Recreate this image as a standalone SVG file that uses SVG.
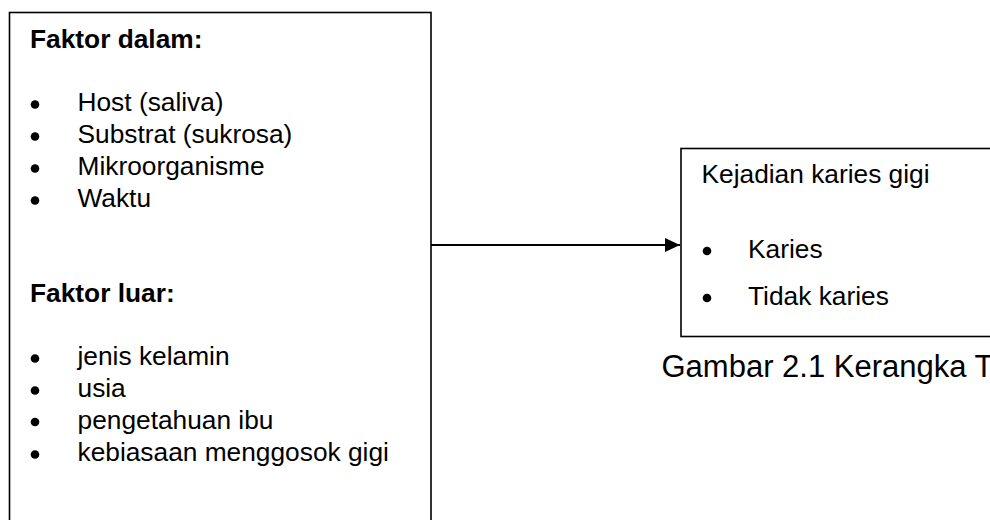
<svg xmlns="http://www.w3.org/2000/svg" width="990" height="520" viewBox="0 0 990 520">
  <style>
    .box { fill: #ffffff; stroke: #000000; stroke-width: 1.6; }
    .t { font-family: "Liberation Sans", Arial, sans-serif; font-size: 26.3px; fill: #000000; }
    .b { font-weight: bold; }
    .cap { font-family: "Liberation Sans", Arial, sans-serif; font-size: 31px; fill: #000000; }
    .link { stroke: #000000; stroke-width: 1.8; fill: none; }
  </style>
  <defs>
    <marker id="arrow" markerWidth="16" markerHeight="14" refX="15" refY="7" orient="auto" markerUnits="userSpaceOnUse">
      <path d="M0,0 L15,7 L0,14 Z" fill="#000000"/>
    </marker>
  </defs>
  <rect width="990" height="520" fill="#ffffff"/>

  <!-- factors box -->
  <g id="faktor">
    <rect class="box" x="9.5" y="12.5" width="421.5" height="520"/>
    <text class="t b" x="30" y="48">Faktor dalam:</text>
    <g class="t">
      <circle cx="35" cy="104.5" r="4.3"/>
      <circle cx="35" cy="136.5" r="4.3"/>
      <circle cx="35" cy="168.5" r="4.3"/>
      <circle cx="35" cy="200.5" r="4.3"/>
      <text x="77.5" y="111">Host (saliva)</text>
      <text x="77.5" y="143">Substrat (sukrosa)</text>
      <text x="77.5" y="175">Mikroorganisme</text>
      <text x="77.5" y="207">Waktu</text>
    </g>
    <text class="t b" x="30" y="301.5">Faktor luar:</text>
    <g class="t">
      <circle cx="35" cy="358.5" r="4.3"/>
      <circle cx="35" cy="390.5" r="4.3"/>
      <circle cx="35" cy="422" r="4.3"/>
      <circle cx="35" cy="454.5" r="4.3"/>
      <text x="77.5" y="365">jenis kelamin</text>
      <text x="77.5" y="397">usia</text>
      <text x="77.5" y="428.5">pengetahuan ibu</text>
      <text x="77.5" y="461">kebiasaan menggosok gigi</text>
    </g>
  </g>

  <!-- outcome box -->
  <g id="kejadian">
    <rect class="box" x="681" y="148.5" width="330" height="188"/>
    <text class="t" x="701.5" y="183">Kejadian karies gigi</text>
    <g class="t">
      <circle cx="707" cy="251" r="4.3"/>
      <circle cx="707" cy="298" r="4.3"/>
      <text x="748" y="258">Karies</text>
      <text x="748" y="305">Tidak karies</text>
    </g>
  </g>

  <!-- caption -->
  <g id="caption">
    <text class="cap" x="661.5" y="377">Gambar 2.1 Kerangka T</text>
  </g>

  <!-- connectors -->
  <g id="connectors">
    <line class="link" x1="431" y1="245" x2="680" y2="245" marker-end="url(#arrow)"/>
  </g>
</svg>
